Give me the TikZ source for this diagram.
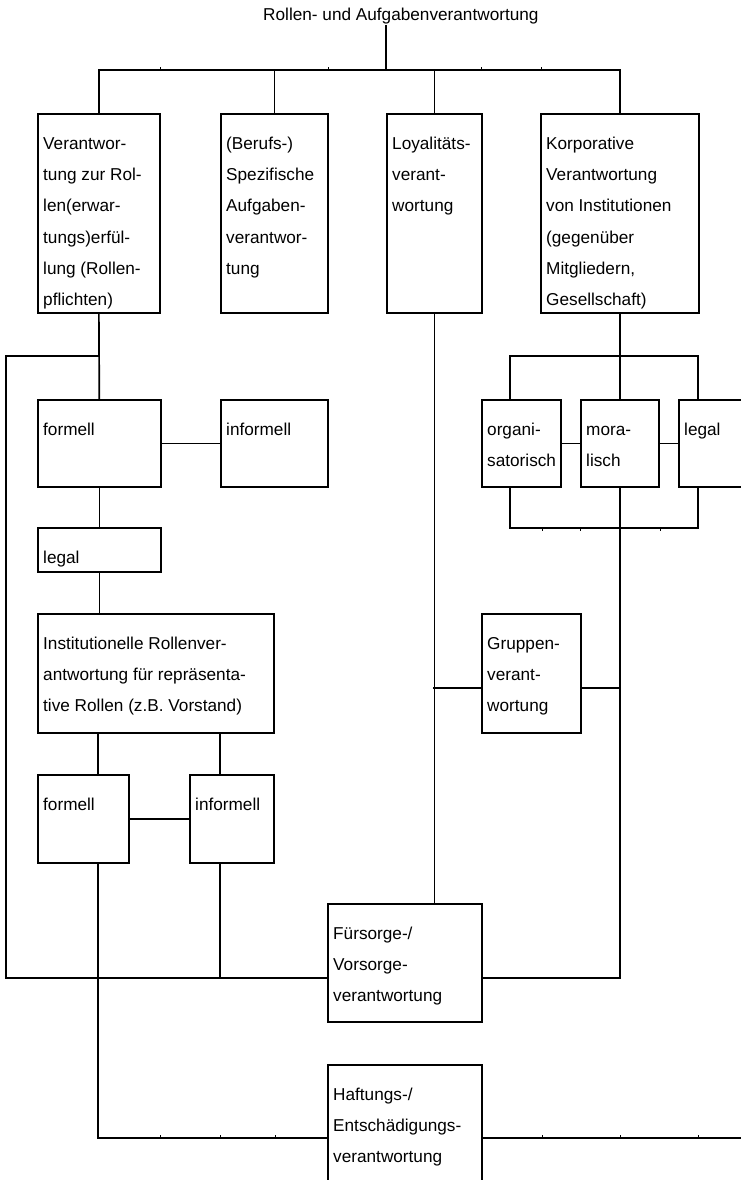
\documentclass[tikz,border=0pt]{standalone}
\usepackage{fontspec}
\setmainfont{Liberation Sans}

\tikzset{
  box/.style={draw, rectangle, anchor=north west, inner sep=0pt, line width=1.7pt},
  boxtext/.style={anchor=base west, inner sep=0pt, align=left, font=\fontsize{17.2}{31.3}\selectfont},
  lbl/.style={boxtext, anchor=north west, xshift=6pt, yshift=-14.1pt},
  conn/.style={line width=1.7pt},
  tick/.style={line width=1pt},
}

\begin{document}
\begin{tikzpicture}[x=1pt, y=-1pt]

  \useasboundingbox (0,0) rectangle (741,1180);
  \clip (0,0) rectangle (741,1180);

  % title
  \node[boxtext] (title) at (263,21) {Rollen- und Aufgabenverantwortung};

  % first row
  \node[box, minimum width=122pt, minimum height=199pt,
        label={[lbl]north west:{\strut Verantwor-\\tung zur Rol-\\len(erwar-\\tungs)erfül-\\lung (Rollen-\\pflichten)}}] (rolle) at (37,113) {};
  \node[box, minimum width=107pt, minimum height=199pt,
        label={[lbl]north west:{\strut (Berufs-)\\Spezifische\\Aufgaben-\\verantwor-\\tung}}] (beruf) at (220,113) {};
  \node[box, minimum width=95pt, minimum height=199pt,
        label={[lbl]north west:{\strut Loyalitäts-\\verant-\\wortung}}] (loyal) at (386,113) {};
  \node[box, minimum width=158pt, minimum height=199pt,
        label={[lbl]north west:{\strut Korporative\\Verantwortung\\von Institutionen\\(gegenüber\\Mitgliedern,\\Gesellschaft)}}] (korp) at (540,113) {};

  % left column
  \node[box, minimum width=123pt, minimum height=87pt, label={[lbl]north west:{\strut formell}}] (formA) at (37,399) {};
  \node[box, minimum width=107pt, minimum height=87pt, label={[lbl]north west:{\strut informell}}] (informA) at (220,399) {};
  \node[box, minimum width=123pt, minimum height=44pt, label={[lbl]north west:{\strut legal}}] (legalA) at (37,527) {};
  \node[box, minimum width=236pt, minimum height=119pt,
        label={[lbl]north west:{\strut Institutionelle Rollenver-\\antwortung für repräsenta-\\tive Rollen (z.B. Vorstand)}}] (inst) at (37,613) {};
  \node[box, minimum width=91pt, minimum height=88pt, label={[lbl]north west:{\strut formell}}] (formB) at (37,774) {};
  \node[box, minimum width=84pt, minimum height=88pt, label={[lbl]north west:{\strut informell}}] (informB) at (189,774) {};

  % right column
  \node[box, minimum width=79pt, minimum height=87pt, label={[lbl]north west:{\strut organi-\\satorisch}}] (organi) at (481,399) {};
  \node[box, minimum width=78pt, minimum height=87pt, label={[lbl]north west:{\strut mora-\\lisch}}] (moral) at (580,399) {};
  \node[box, minimum width=90pt, minimum height=87pt, label={[lbl]north west:{\strut legal}}] (legalB) at (678,399) {};
  \node[box, minimum width=99pt, minimum height=119pt,
        label={[lbl]north west:{\strut Gruppen-\\verant-\\wortung}}] (grp) at (481,613) {};

  % bottom
  \node[box, minimum width=154pt, minimum height=118pt,
        label={[lbl]north west:{\strut Fürsorge-/\\Vorsorge-\\verantwortung}}] (fuer) at (327,903) {};
  \node[box, minimum width=154pt, minimum height=130pt,
        label={[lbl]north west:{\strut Haftungs-/\\Entschädigungs-\\verantwortung}}] (haft) at (327,1064) {};

  % bends
  \coordinate (bar) at (386,70);
  \coordinate (lt) at (6,356);
  \coordinate (lb) at (6,978);
  \coordinate (hl) at (98,1138);
  \coordinate (hr) at (745,1138);
  \coordinate (gl) at (433,688);
  \coordinate (gr) at (620,688);
  \coordinate (ktl) at (510,356);
  \coordinate (ktr) at (698,356);
  \coordinate (kbl) at (510,528);
  \coordinate (kbr) at (698,528);

  % top tree
  \draw[conn] (title.south -| bar) -- (bar);
  \draw[conn] (rolle.north) |- (bar) -| (korp.north);
  \draw[conn] (beruf.north) -- (beruf.north |- bar);
  \draw[conn] (loyal.north) -- (loyal.north |- bar);

  % left side
  \draw[conn] (rolle.south) -- (formA.north);
  \draw[conn] (rolle.south |- lt) -- (lt) -- (lb) -- (lb -| fuer.west);
  \draw[conn] (formA.east) -- (informA.west);
  \draw[conn] (formA.south) -- (legalA.north);
  \draw[conn] (legalA.south) -- (legalA.south |- inst.north);
  \draw[conn] (inst.south -| hl) -- (formB.north -| hl);
  \draw[conn] (inst.south -| informA.west) -- (informB.north -| informA.west);
  \draw[conn] (formB.east) -- (informB.west);
  \draw[conn] (formB.south -| hl) -- (hl) -- (hl -| haft.west);
  \draw[conn] (haft.east |- hr) -- (hr);
  \draw[conn] (informB.south -| informA.west) -- (informA.west |- lb);

  % middle
  \draw[conn] (loyal.south) -- (loyal.south |- fuer.north);
  \draw[conn] (gl) -- (gl -| grp.west);
  \draw[conn] (grp.east |- gr) -- (gr);

  % right side
  \draw[conn] (korp.south) -- (moral.north);
  \draw[conn] (ktl |- organi.north) -- (ktl) -- (ktr) -- (ktr |- legalB.north);
  \draw[conn] (organi.south -| kbl) -- (kbl) -- (kbr) -- (legalB.south -| kbr);
  \draw[conn] (organi.east) -- (moral.west);
  \draw[conn] (moral.east) -- (legalB.west);
  \draw[conn] (moral.south) -- (moral.south |- lb) -- (lb -| fuer.east);

  % small ticks
  \foreach \x in {160,328,386,481,541}
    \draw[tick] (\x,70) -- (\x,67);
  \foreach \x in {160,220,275,542,620,698}
    \draw[tick] (\x,1138) -- (\x,1135);
  \foreach \x in {542,580,660}
    \draw[tick] (\x,528) -- (\x,531);

\end{tikzpicture}
\end{document}
